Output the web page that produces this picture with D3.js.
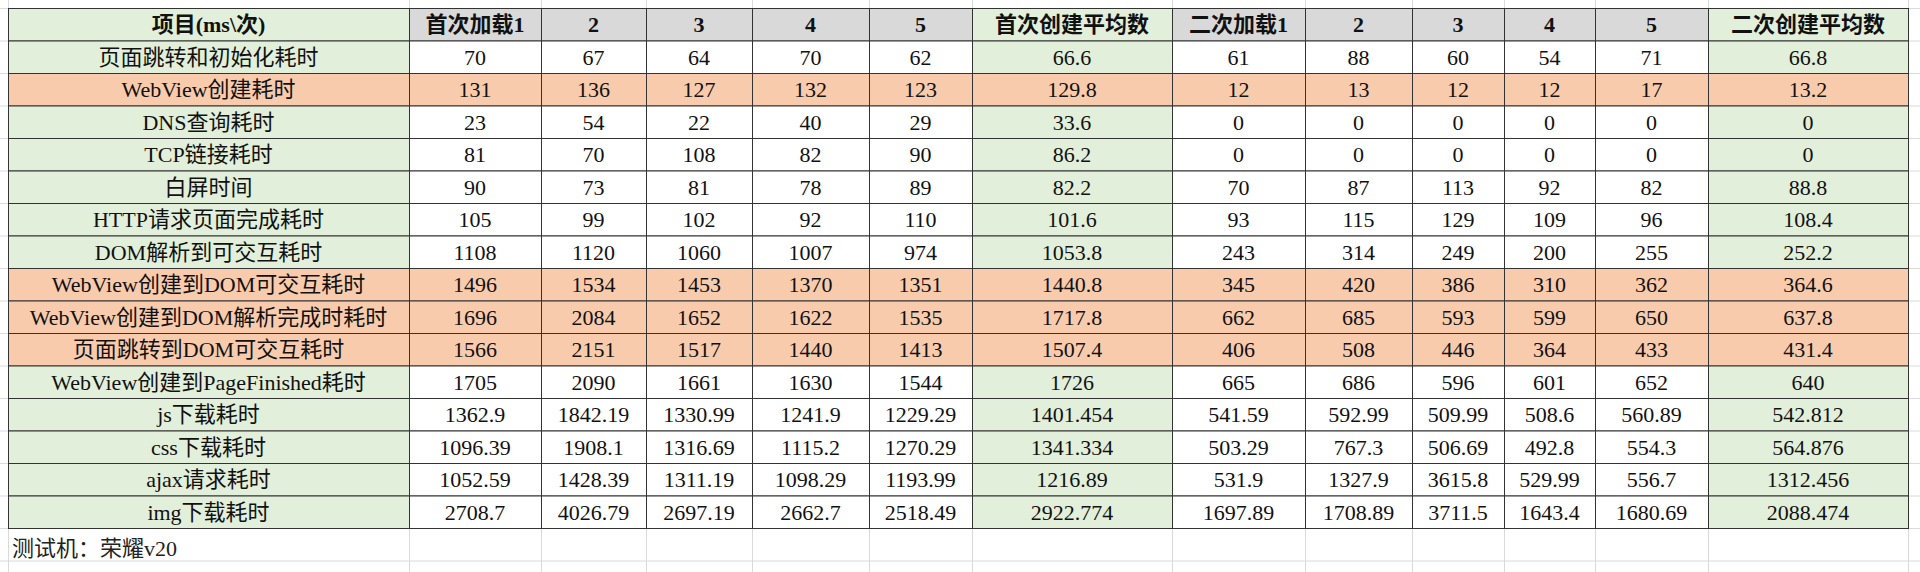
<!DOCTYPE html>
<html><head><meta charset="utf-8">
<script src="https://cdn.jsdelivr.net/npm/d3@7"></script>
<style>body{margin:0;background:#fff}</style>
</head><body>
<svg id="tbl" width="1920" height="572"></svg>
<script>
var headers = ["项目(ms\\次)","首次加载1","2","3","4","5","首次创建平均数","二次加载1","2","3","4","5","二次创建平均数"];
var rowNames = ["页面跳转和初始化耗时","WebView创建耗时","DNS查询耗时","TCP链接耗时","白屏时间","HTTP请求页面完成耗时","DOM解析到可交互耗时","WebView创建到DOM可交互耗时","WebView创建到DOM解析完成时耗时","页面跳转到DOM可交互耗时","WebView创建到PageFinished耗时","js下载耗时","css下载耗时","ajax请求耗时","img下载耗时"];
var values = [
  ["70","67","64","70","62","66.6","61","88","60","54","71","66.8"],
  ["131","136","127","132","123","129.8","12","13","12","12","17","13.2"],
  ["23","54","22","40","29","33.6","0","0","0","0","0","0"],
  ["81","70","108","82","90","86.2","0","0","0","0","0","0"],
  ["90","73","81","78","89","82.2","70","87","113","92","82","88.8"],
  ["105","99","102","92","110","101.6","93","115","129","109","96","108.4"],
  ["1108","1120","1060","1007","974","1053.8","243","314","249","200","255","252.2"],
  ["1496","1534","1453","1370","1351","1440.8","345","420","386","310","362","364.6"],
  ["1696","2084","1652","1622","1535","1717.8","662","685","593","599","650","637.8"],
  ["1566","2151","1517","1440","1413","1507.4","406","508","446","364","433","431.4"],
  ["1705","2090","1661","1630","1544","1726","665","686","596","601","652","640"],
  ["1362.9","1842.19","1330.99","1241.9","1229.29","1401.454","541.59","592.99","509.99","508.6","560.89","542.812"],
  ["1096.39","1908.1","1316.69","1115.2","1270.29","1341.334","503.29","767.3","506.69","492.8","554.3","564.876"],
  ["1052.59","1428.39","1311.19","1098.29","1193.99","1216.89","531.9","1327.9","3615.8","529.99","556.7","1312.456"],
  ["2708.7","4026.79","2697.19","2662.7","2518.49","2922.774","1697.89","1708.89","3711.5","1643.4","1680.69","2088.474"]
];
var orangeRows = [1,7,8,9];
var avgCols = [6,12];
var colEdges = [8,409,541,646,752,869,972,1172,1305,1412,1504,1595,1708,1908];
var caption = "测试机：荣耀v20";

var green = "#e2efda", orange = "#f8cbad", grey = "#d9d9d9";
var font = "'Liberation Serif','Noto Sans CJK SC',serif";
var svg = d3.select("#tbl");
var nRows = rowNames.length + 1;
var y = d3.scaleLinear().domain([0, nRows]).range([8, 528]);
var rowH = y(1) - y(0);

// faint excel grid
var gridY = d3.range(-1, 20).map(function(i){ return y(i); });
svg.selectAll("line.gy").data(gridY).enter().append("line")
  .attr("x1",0).attr("x2",1920).attr("y1",function(d){return d+0.5;}).attr("y2",function(d){return d+0.5;})
  .attr("stroke","#dadada");
svg.selectAll("line.gx").data(colEdges).enter().append("line")
  .attr("x1",function(d){return d+0.5;}).attr("x2",function(d){return d+0.5;})
  .attr("y1",0).attr("y2",572).attr("stroke","#dadada");

var cells = [];
headers.forEach(function(h, c){
  cells.push({r:0, c:c, t:h, fill: (c===0 || avgCols.indexOf(c)>=0) ? green : grey});
});
rowNames.forEach(function(name, i){
  var r = i + 1, isOr = orangeRows.indexOf(i) >= 0;
  cells.push({r:r, c:0, t:name, fill: isOr ? orange : green});
  values[i].forEach(function(v, j){
    var c = j + 1;
    cells.push({r:r, c:c, t:v, fill: isOr ? orange : (avgCols.indexOf(c)>=0 ? green : "#fff")});
  });
});

var g = svg.selectAll("g.cell").data(cells).enter().append("g").attr("class","cell");
g.append("rect")
  .attr("x", function(d){return colEdges[d.c]+0.5;})
  .attr("y", function(d){return y(d.r)+0.5;})
  .attr("width", function(d){return colEdges[d.c+1]-colEdges[d.c];})
  .attr("height", rowH)
  .attr("fill", function(d){return d.fill;})
  .attr("stroke","#333").attr("stroke-width",1);
g.append("text")
  .attr("x", function(d){return (colEdges[d.c]+colEdges[d.c+1])/2;})
  .attr("y", function(d){return y(d.r)+rowH/2+8;})
  .attr("text-anchor","middle")
  .attr("font-family", font)
  .attr("font-size", 22)
  .attr("font-weight", function(d){return d.r===0 ? "bold" : "normal";})
  .attr("fill","#111")
  .attr("textLength", function(d){
    var w = colEdges[d.c+1]-colEdges[d.c]-6;
    return this.getComputedTextLength && null;
  })
  .text(function(d){return d.t;})
  .each(function(d){
    var w = colEdges[d.c+1]-colEdges[d.c]-6;
    if (this.getComputedTextLength() > w) d3.select(this).attr("textLength", w).attr("lengthAdjust","spacingAndGlyphs");
  });

svg.append("text").attr("x",12).attr("y",556)
  .attr("font-family",font).attr("font-size",22).attr("fill","#222").text(caption);
</script>
</body></html>
